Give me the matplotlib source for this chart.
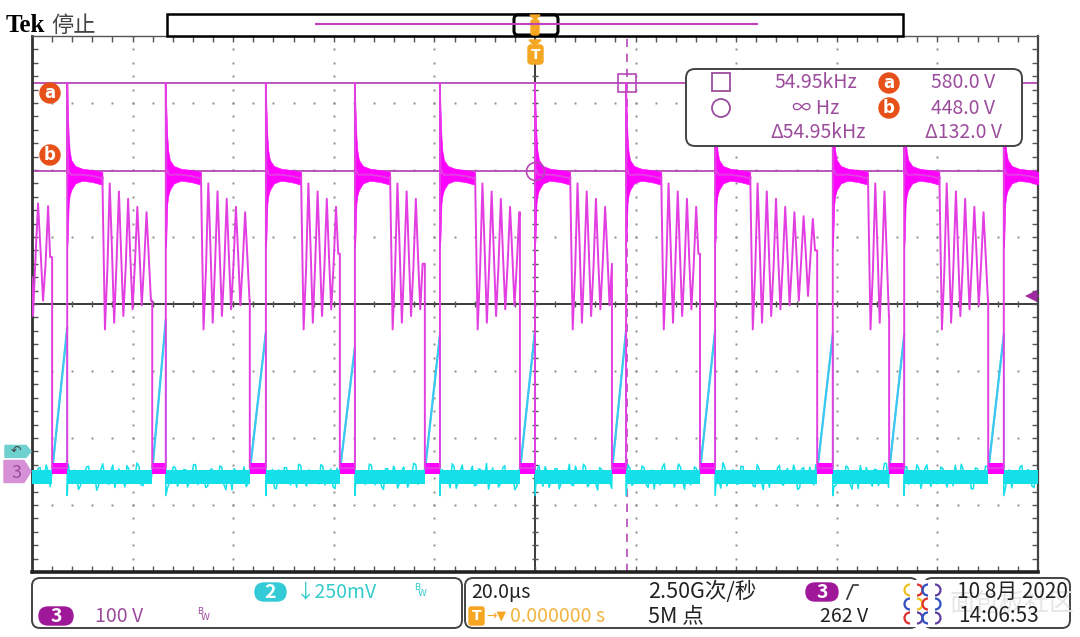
import numpy as np
import matplotlib
matplotlib.use('Agg')
import matplotlib.pyplot as plt
from matplotlib.patches import FancyBboxPatch, Rectangle, Circle, Polygon, Arc

# ---- scope settings ----
t_div = 20.0        # us/div
ch3_vdiv = 100.0    # V/div
ch3_pos = -2.5      # div
ch2_vdiv = 250.0    # mV/div
ch2_pos = -2.2      # div

# ---- CH3 (drain voltage, V), times in us ----
t_on = [-96.0, -76.1, -56.7, -38.8, -21.9, -3.0, 15.3, 32.8, 56.1, 70.4, 90.1]
t_off = [-93.0, -73.4, -53.5, -35.8, -18.9, 0.0, 18.1, 35.8, 59.2, 73.4, 93.2]

# turn-off spike and plateau envelope, offset from t_off
plat_dt = [0.0, 0.1, 0.3, 0.5, 0.8, 1.6, 3.0, 5.0, 7.0]
plat_hi = [580, 545, 500, 478, 465, 456, 452, 450, 447]
plat_lo = [335, 345, 400, 412, 420, 430, 434, 432, 428]

# ringing after the plateau, offset from plateau end
ring_dt = [0.0, 0.1, 0.5, 0.98, 1.45, 1.9, 2.33, 2.8, 3.28, 3.72, 4.16, 4.63,
           5.11, 5.55, 5.99, 6.46, 6.94, 7.38, 7.82, 8.29, 8.77, 9.21, 9.65,
           10.12, 10.6, 11.04, 11.48, 11.95, 12.43, 12.87, 13.31, 13.78, 14.26]
ring_v = [440, 390, 212, 300, 430, 330, 222, 310, 418, 325, 232, 305,
          407, 320, 242, 310, 395, 325, 248, 310, 387, 320, 255,
          315, 381, 325, 262, 318, 377, 330, 268, 320, 372]

# ringing visible before the first turn-on
pre_t = [-100.0, -99.8, -99.3, -98.8, -98.3, -97.8, -97.3, -96.8, -96.4]
pre_v = [290, 232, 320, 400, 330, 255, 310, 396, 320]

low_lo, low_mid, low_hi = -3, 5, 12

# ---- CH2 (current sense, mV) ----
ch2_base = -95
ramp_start = -75
ramp_top = [460, 490, 445, 390, 435, 450, 450, 450, 435, 435, 435]
ch2_noise_a = [12, -20, 35, -8, 22, -41, 5, 30, -15, 48, -25, 10, -33, 18, 40, -12, -50, 25, 3, -28, 44, -6, 15, -38, 28,
               -18, 52, -30, 8, 20, -45, 33, -10, 14, -22, 38, -35, 6, 27, -15, 46, -28, 12, -40, 24, 2, -20, 36, -48, 18,
               30, -14, 9, -36, 41, -24, 16, 55, -19, 4, -42, 26, -8, 34, -30, 11, 47, -16, -34, 21, 7, -26, 39, -11, 29,
               -44, 13, 32, -21, 50, -37, 1, 23, -13, 43, -29, 17, -47, 31, -6, 19, -23, 37, -39, 10, 45, -17, 26, -32, 6,
               35, -27, 14, -9, 49, -43, 22, -18, 3, 40, -31, 28, -12, -46, 33, 8, -24, 42, -15, 20, -36, 51, -5, 16, -29,
               25, -10, 38, -40, 12, 30, -22, 5, 47, -33, 18, -14, 36, -26, 9, -49, 27, 2, -19, 44, -35, 15, -7, 32, -23,
               11, 41, -28, 21, -45, 6, 34, -16, 24, -38, 48, -11, 13, -30, 37, -20, 29, -42, 4, 26, -13, 53, -34, 19, -3,
               -25, 39, -9, 15, -37, 28, -48, 22, 7, -17, 43, -31, 31, -6, 18, -41, 35, -21, 10, 46, -27, 3, -14, 38, -32,
               20, -4, 33, -46, 16, 42, -24, 9, -35, 27, -12, 50, -39, 14, 23, -18, 36, -28, 1, 45, -43, 30, -8, 12, -26,
               37, -15, 24, -33, 8, 47, -21, 17, -44, 31, -2, 40, -30, 13, -16, 34, -37, 26, 5, -23, 43, -11, 21, -40, 15]
ch2_noise_b = [-22, 31, -9, 44, -36, 17, 2, -27, 39, -14, 25, -47, 8, 36, -19, 13, -31, 49, -5, 21, -40, 29, -12, 42, -24,
               6, 38, -33, 15, -8, 47, -26, 19, -43, 11, 34, -17, 27, -38, 4, 45, -21, 9, -34, 30, -6, 41, -29, 14, -49,
               23, -11, 37, -25, 7, 52, -32, 16, -4, 28, -44, 20, 35, -15, 10, -39, 43, -23, 26, -9, 1, 46, -30, 18, -37,
               32, -13, 24, -46, 39, -2, 14, -28, 48, -20, 9, -35, 30, -7, 40, -42, 22, 3, -16, 51, -27, 12, -45, 34, -10,
               -31, 27, 8, -41, 36, -18, 44, -5, 19, -33, 29, -24, 50, -12, 5, -38, 33, -21, 15, -48, 26, -3, 38, -26, 11,
               42, -35, 18, -10, 31, -45, 24, 6, -29, 40, -16, 47, -37, 13, -22, 35, -8, 21, -43, 28, 0, -19, 45, -32, 17,
               -14, 33, -40, 25, 9, -30, 49, -23, 16, -6, 37, -46, 22, -11, 30, -36, 4, 43, -18, 12, -42, 34, -1, 27, -28,
               39, -20, 10, -34, 46, -15, 23, -39, 7, 32, -25, 17, -8, 44, -47, 29, -13, 36, -30, 3, 48, -22, 14, -35, 25,
               -6, 41, -27, 20, -44, 13, 35, -17, 28, -32, 8, 50, -21, 24, -40, 11, 38, -9, -26, 31, -14, 45, -36, 19, -2,
               30, -38, 15, 43, -19, 26, -7, -45, 33, 2, -23, 39, -31, 18, 47, -12, 21, -41, 9, 36, -16, 27, -34, 6, 40]

# ---- cursors / readouts ----
cur_freq = 54.95   # kHz
cur_a = 580.0
cur_b = 448.0
trig_v = 262.0

PINK = '#ff00ff'
PLINE = '#e23ee2'
CUR = '#b548b5'
TXT = '#9c4c9c'
CYAN = '#14e0ea'
ORANGE = '#f5a623'
FONT = ['Noto Sans CJK SC', 'DejaVu Sans']


def ch3(v):
    return np.asarray(v, float) / ch3_vdiv + ch3_pos


def ch2(mv):
    return np.asarray(mv, float) / ch2_vdiv + ch2_pos


fig = plt.figure(figsize=(10.8, 6.37), dpi=100)
fig.patch.set_facecolor('white')

L, R, T, B = 32, 1038, 36, 572
ax = fig.add_axes([L / 1080, 1 - B / 637, (R - L) / 1080, (B - T) / 637])
ax.set_xlim(-5 * t_div, 5 * t_div)
ax.set_ylim(-4, 4)

# graticule
xm = np.arange(-100, 100.01, t_div / 5)
ym = np.arange(-4, 4.001, 0.2)
for yv in (-3, -2, -1, 1, 2, 3):
    ax.plot(xm, np.full(len(xm), yv), ls='none', marker='s', ms=1.4, mew=0, color='#8c8c8c', zorder=1)
for xv in (-80, -60, -40, -20, 20, 40, 60, 80):
    ax.plot(np.full(len(ym), xv), ym, ls='none', marker='s', ms=1.4, mew=0, color='#8c8c8c', zorder=1)
ax.axhline(0, color='#3a3a3a', lw=1.4, zorder=1.5)
ax.axvline(0, color='#3a3a3a', lw=1.4, zorder=1.5)
ax.plot(xm, np.zeros(len(xm)), ls='none', marker='|', ms=5, mew=1, color='#555555', zorder=1.5)
ax.plot(np.zeros(len(ym)), ym, ls='none', marker='_', ms=5, mew=1, color='#555555', zorder=1.5)

ax.set_xticks([])
ax.set_yticks([])
ax.set_xticks(xm[1:-1], minor=True)
ax.set_yticks(ym[1:-1], minor=True)
ax.tick_params(which='minor', direction='in', length=4, width=1, color='#555555',
               top=True, right=True, labelbottom=False, labelleft=False)
for side, lw, c in (('left', 2.0, '#333333'), ('bottom', 2.6, '#222222'),
                    ('right', 1.6, '#444444'), ('top', 1.0, '#555555')):
    ax.spines[side].set_linewidth(lw)
    ax.spines[side].set_color(c)

# cursors
ya, yb = ch3(cur_a), ch3(cur_b)
t_cur = 1e3 / cur_freq
ax.axhline(ya, color=CUR, lw=1.3, zorder=2)
ax.axhline(yb, color=CUR, lw=1.3, zorder=2)
ax.axvline(t_cur, color=CUR, lw=1.2, dashes=(5, 4), zorder=2)

# CH2 trace: two interleaved sample sets
ta = np.linspace(-100, 100, len(ch2_noise_a))
tb = ta + (ta[1] - ta[0]) / 2
tn = np.ravel(np.column_stack([ta, tb]))
nz = ch2_base + np.ravel(np.column_stack([ch2_noise_a, ch2_noise_b])).astype(float)
edges = [-101.0] + list(t_off)
cx, cy = [], []
for k in range(len(t_on)):
    m = (tn > edges[k]) & (tn < t_on[k])
    cx += list(tn[m])
    cy += list(nz[m])
    cx += [t_on[k], t_off[k], t_off[k]]
    cy += [ramp_start, ramp_top[k], ch2_base - 70]
    ax.fill_between([max(edges[k], -100), t_on[k]], ch2(ch2_base - 26), ch2(ch2_base + 26),
                    color=CYAN, lw=0, zorder=3)
m = tn > t_off[-1]
cx += list(tn[m])
cy += list(nz[m])
ax.fill_between([t_off[-1], 100], ch2(ch2_base - 26), ch2(ch2_base + 26), color=CYAN, lw=0, zorder=3)
ax.plot(cx, ch2(cy), color=CYAN, lw=1.1, zorder=3)
for k in range(len(t_on)):
    ax.plot([t_on[k], t_off[k]], ch2([ramp_start, ramp_top[k]]), color='#3cc6f0', lw=1.6, zorder=3.2)

# CH3 trace
plat_mid = [(h + l) / 2 for h, l in zip(plat_hi, plat_lo)]
px = list(pre_t) + [t_on[0], t_on[0]]
pv = list(pre_v) + [pre_v[-1], low_mid]
for k in range(len(t_off)):
    ax.fill_between([t_on[k], t_off[k]], ch3(low_lo), ch3(low_hi), color=PINK, lw=0, zorder=4)
    ax.fill_between([t_off[k] + d for d in plat_dt], ch3(plat_lo), ch3(plat_hi),
                    color=PINK, lw=0.4, zorder=4)
    pe = t_off[k] + plat_dt[-1]
    px += [t_off[k], t_off[k]] + [t_off[k] + d for d in plat_dt[1:]]
    pv += [low_mid, plat_hi[0]] + plat_mid[1:]
    if k + 1 < len(t_on):
        nxt = t_on[k + 1]
        for d, v in zip(ring_dt, ring_v):
            if pe + d < nxt:
                px.append(pe + d)
                pv.append(v)
        px += [nxt, nxt]
        pv += [pv[-1], low_mid]
ax.plot(px, ch3(pv), color=PLINE, lw=1.4, zorder=4.5)

# cursor markers
ax.plot([t_cur], [ya], marker='s', ms=13, mfc='none', mec=CUR, mew=1.2, zorder=6)
ax.plot([0], [yb], marker='o', ms=13, mfc='none', mec=CUR, mew=1.2, zorder=6)

# trigger level marker
ax.plot([98.6, 100], [ch3(trig_v)] * 2, color='#a02aa0', lw=1.5, clip_on=False, zorder=7)
ax.plot([98.6], [ch3(trig_v)], marker='<', ms=9, color='#a02aa0', mew=0, clip_on=False, zorder=7)

# ---- overlay in pixel units ----
ov = fig.add_axes([0, 0, 1, 1], zorder=5)
ov.set_xlim(0, 1080)
ov.set_ylim(637, 0)
ov.axis('off')
ov.patch.set_alpha(0)


def ypx(d):
    return T + (4 - d) * (B - T) / 8


# header
ov.text(6, 25, 'Tek', family='Liberation Serif', fontweight='bold', fontsize=18, va='center', color='black')
ov.text(51, 25, '停止', family=FONT, fontsize=16, va='center', color='#444444')
ov.add_patch(Rectangle((167, 14), 736, 22, fc='white', ec='black', lw=1.8))
ov.plot([316, 757], [24, 24], color='#c040c0', lw=1.5)
ov.add_patch(FancyBboxPatch((514, 15), 44, 20, boxstyle='round,pad=0,rounding_size=4',
                            fc='none', ec='black', lw=2.2))
ov.add_patch(Polygon([(530, 15), (540, 15), (535, 20)], color=ORANGE))
ov.add_patch(FancyBboxPatch((531, 20), 8, 15, boxstyle='round,pad=0,rounding_size=2', color=ORANGE))
ov.add_patch(Polygon([(529, 40), (541, 40), (535, 46)], color=ORANGE))
ov.add_patch(FancyBboxPatch((528, 45), 15, 19, boxstyle='round,pad=0,rounding_size=3', color=ORANGE))
ov.text(535.5, 55, 'T', color='white', fontsize=10, fontweight='bold', ha='center', va='center', family='DejaVu Sans')

# cursor labels a / b
for yy, lab in ((93, 'a'), (155, 'b')):
    ov.add_patch(Circle((50, yy), 10, color='#e8501a'))
    ov.text(50, yy, lab, color='white', fontsize=12, fontweight='bold', ha='center', va='center', family='DejaVu Sans')

# readout box
ov.add_patch(FancyBboxPatch((686, 69), 336, 77, boxstyle='round,pad=0,rounding_size=9',
                            fc='white', ec='#444444', lw=1.4))
ov.add_patch(Rectangle((712, 73), 18, 18, fc='none', ec=TXT, lw=1.3))
ov.add_patch(Circle((721, 108), 9, fc='none', ec=TXT, lw=1.3))
rkw = dict(family=FONT, fontsize=14, color=TXT, ha='right', va='center')
ov.text(857, 83, f'{cur_freq:.2f}kHz', **rkw)
ov.text(839, 108, '∞ Hz', **rkw)
ov.text(866, 133, f'Δ{cur_freq:.2f}kHz', **rkw)
ov.text(995, 83, f'{cur_a:.1f} V', **rkw)
ov.text(995, 108, f'{cur_b:.1f} V', **rkw)
ov.text(1002, 133, f'Δ{cur_a - cur_b:.1f} V', **rkw)
for yy, lab in ((83, 'a'), (108, 'b')):
    ov.add_patch(Circle((889, yy), 10, color='#e8501a'))
    ov.text(889, yy, lab, color='white', fontsize=12, fontweight='bold', ha='center', va='center', family='DejaVu Sans')

# channel tabs
y2 = ypx(ch2_pos)
ov.add_patch(Polygon([(5, y2 - 6), (26, y2 - 6), (31, y2), (26, y2 + 6), (5, y2 + 6)], color='#6fd0d0'))
ov.text(16, y2, '↶', color='#444444', fontsize=9, ha='center', va='center', family='DejaVu Sans')
y3 = ypx(ch3_pos)
ov.add_patch(Polygon([(4, y3 - 11), (24, y3 - 11), (31, y3), (24, y3 + 11), (4, y3 + 11)], color='#d690d6'))
ov.text(16, y3 + 1, '3', color='#9c4c9c', fontsize=13, ha='center', va='center', family=FONT)

# bottom boxes
for x0, w in ((32, 430), (465, 453), (924, 146)):
    ov.add_patch(FancyBboxPatch((x0, 578), w, 50, boxstyle='round,pad=0,rounding_size=8',
                                fc='white', ec='#444444', lw=1.4))

bkw = dict(family=FONT, fontsize=14, va='center')
# channel 2 / 3
ov.add_patch(FancyBboxPatch((255, 583), 31, 18, boxstyle='round,pad=0,rounding_size=9', color='#33ccd6'))
ov.text(270.5, 592, '2', color='white', fontweight='bold', ha='center', **bkw)
ov.text(296, 592, '↓250mV', color='#33cccc', **bkw)
ov.add_patch(FancyBboxPatch((39, 607), 34, 18, boxstyle='round,pad=0,rounding_size=9', color='#a0189a'))
ov.text(56, 616, '3', color='white', fontweight='bold', ha='center', **bkw)
ov.text(95, 616, '100 V', color=TXT, **bkw)
for xx, yy, c in ((414, 591, '#33cccc'), (197, 615, TXT)):
    ov.text(xx, yy - 3, 'B', color=c, fontsize=6.5, family='DejaVu Sans', va='center')
    ov.text(xx + 4, yy + 3, 'W', color=c, fontsize=6.5, family='DejaVu Sans', va='center')

# timebase / trigger
ov.text(471, 592, '20.0µs', color='#222222', **bkw)
ov.text(648, 592, '2.50G次/秒', color='#222222', family=FONT, fontsize=15.5, va='center')
ov.text(648, 616, '5M 点', color='#222222', family=FONT, fontsize=15.5, va='center')
ov.add_patch(FancyBboxPatch((469, 607), 15, 18, boxstyle='round,pad=0,rounding_size=2', color=ORANGE))
ov.text(476.5, 616, 'T', color='white', fontsize=10, fontweight='bold', ha='center', va='center', family='DejaVu Sans')
ov.text(486, 616, '→▼', color=ORANGE, family='DejaVu Sans', fontsize=9, va='center')
ov.text(510, 616, '0.000000 s', color='#f2b440', **bkw)
ov.add_patch(FancyBboxPatch((806, 583), 32, 18, boxstyle='round,pad=0,rounding_size=9', color='#a0189a'))
ov.text(822, 592, '3', color='white', fontweight='bold', ha='center', **bkw)
ov.plot([847, 853, 858], [599, 585, 585], color='#333333', lw=1.2)
ov.text(868, 616, f'{trig_v:.0f} V', color='#222222', ha='right', **bkw)

# logo
ov.add_patch(Rectangle((903, 580), 38, 47, fc='white', ec='none', zorder=3))
for (xx, yy, c, a1, a2) in ((910, 590, '#f0c020', 90, 270), (917, 590, '#e03030', -90, 90),
                            (910, 604, '#3050c0', 90, 270), (917, 604, '#f0c020', -90, 90),
                            (910, 618, '#e03030', 90, 270), (917, 618, '#6040a0', -90, 90),
                            (928, 590, '#3050c0', 90, 270), (935, 590, '#6040a0', -90, 90),
                            (928, 604, '#e03030', 90, 270), (935, 604, '#3050c0', -90, 90),
                            (928, 618, '#3050c0', 90, 270), (935, 618, '#6040a0', -90, 90)):
    ov.add_patch(Arc((xx, yy), 11, 11, theta1=a1, theta2=a2, color=c, lw=1.6, zorder=4))

# date
ov.text(1012, 604, '面包板社区', color='#e6e6e6', family=FONT, fontsize=18,
        ha='center', va='center', zorder=1)
ov.text(957, 592, '10 8月 2020', color='#222222', family=FONT, fontsize=15, va='center', zorder=5)
ov.text(958, 616, '14:06:53', color='#222222', family=FONT, fontsize=15, va='center', zorder=5)

fig.savefig('out.png', dpi=100, facecolor='white')
